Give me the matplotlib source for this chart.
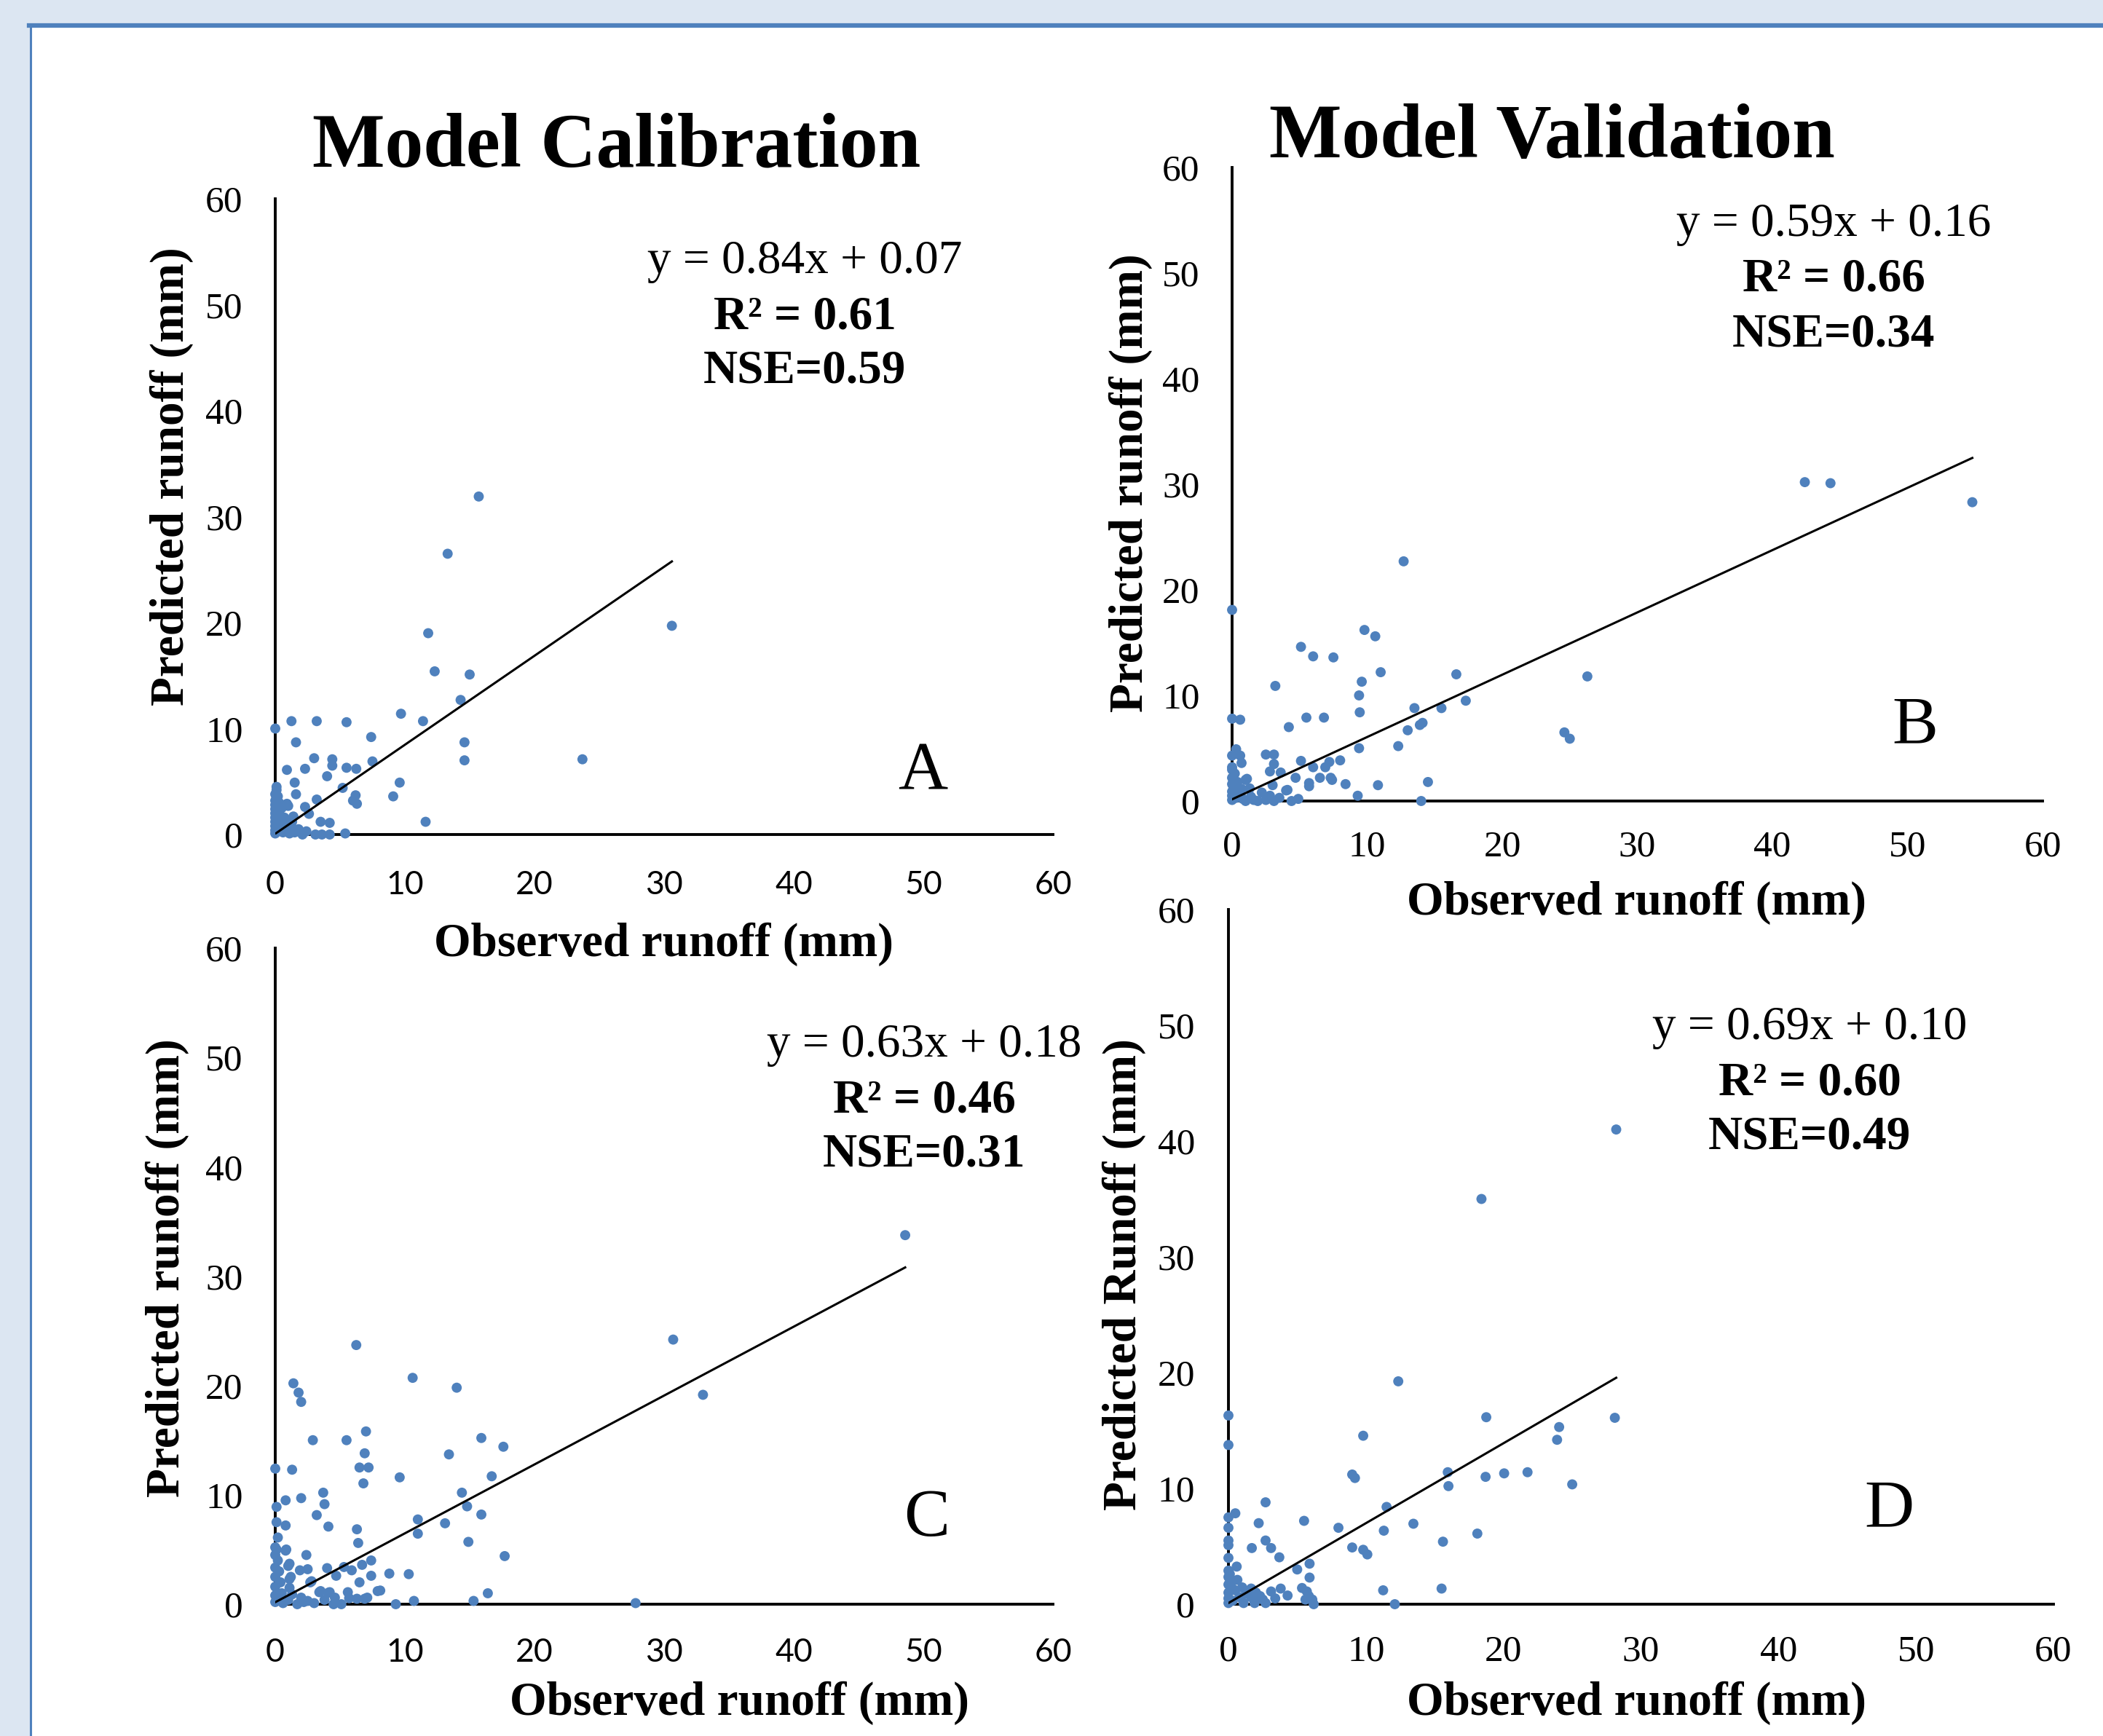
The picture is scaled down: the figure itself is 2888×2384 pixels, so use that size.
import matplotlib
matplotlib.use("Agg")
import matplotlib.pyplot as plt
from matplotlib.patches import Rectangle
from matplotlib.lines import Line2D

# ---------------- data: (observed, predicted) ----------------
ticks = [0, 10, 20, 30, 40, 50, 60]

cal_points = [
    (15.7, 31.9), (13.3, 26.5), (30.6, 19.7), (11.8, 19.0), (12.3, 15.4), (15.0, 15.1), (14.3, 12.7),
    (9.7, 11.4), (11.4, 10.7), (1.25, 10.7), (3.2, 10.7), (5.5, 10.6), (0, 10.0), (7.4, 9.2), (1.6, 8.7),
    (14.6, 8.7), (14.6, 7.0), (23.7, 7.1), (3.0, 7.2), (4.4, 7.1), (4.4, 6.5), (7.5, 6.9), (0.9, 6.1),
    (2.3, 6.2), (5.5, 6.3), (6.25, 6.2), (4.0, 5.5), (1.5, 4.9), (9.6, 4.9), (5.2, 4.4), (0.1, 4.5),
    (1.6, 3.8), (6.2, 3.7), (9.1, 3.6), (3.2, 3.3), (6.0, 3.2), (6.3, 2.9), (2.3, 2.6), (1.0, 2.7),
    (11.6, 1.2), (4.2, 1.1), (3.5, 1.2), (5.4, 0.1),
    (0, 3.8), (0.9, 2.9), (2.6, 1.95), (1.4, 1.7), (2.1, 0), (3.1, 0), (4.2, 0), (3.6, 0), (1.2, 0.7),
    (0.7, 1.6), (0, 3.2), (0, 2.8), (0, 2.4), (0, 2.0), (0, 1.6), (0, 1.2), (0, 0.8), (0, 0.4), (0, 0.1),
    (0.3, 3.0), (0.3, 2.2), (0.4, 1.4), (0.5, 0.6), (0.6, 0.2), (0.2, 0.9), (0.8, 1.0), (0.9, 0.3),
    (1.1, 0.1), (1.5, 0.2), (1.8, 0.5), (2.4, 0.3), (1.3, 1.2), (0.5, 2.5), (0.2, 3.6), (0.1, 4.2),
]

val_points = [
    (42.4, 30.2), (44.3, 30.1), (54.8, 28.3), (12.7, 22.7), (0, 18.1), (9.8, 16.2), (10.6, 15.6),
    (5.1, 14.6), (6.0, 13.7), (7.5, 13.6), (3.2, 10.9), (11.0, 12.2), (16.6, 12.0), (26.3, 11.8),
    (9.6, 11.3), (9.4, 10.0), (17.3, 9.5), (13.5, 8.8), (15.5, 8.8), (0, 7.8), (0.6, 7.7), (5.5, 7.9),
    (6.8, 7.9), (9.45, 8.4), (4.2, 7.0), (13.9, 7.2), (14.1, 7.4), (13.0, 6.7), (24.6, 6.5), (25.0, 5.9),
    (9.4, 5.0), (12.3, 5.2), (0.3, 4.9), (0, 4.3), (0.6, 4.3), (0.7, 3.6), (2.5, 4.4), (3.1, 4.4),
    (5.1, 3.8), (3.1, 3.5), (8.0, 3.85), (7.2, 3.7), (6.0, 3.2), (6.9, 3.2), (0, 3.2), (0, 2.97),
    (2.8, 2.8), (3.6, 2.7), (6.5, 2.2), (7.3, 2.2), (7.4, 2.0), (4.7, 2.2), (1.1, 2.1), (5.7, 1.7),
    (5.7, 1.4), (8.4, 1.6), (14.5, 1.8), (10.8, 1.5), (3.0, 1.5), (4.1, 1.05), (9.3, 0.5), (14.0, 0.0),
    (0.1, 1.3), (0.7, 1.15), (1.0, 2.0), (4.0, 1.0), (4.9, 0.2), (4.4, 0), (3.1, 0), (1.9, 0), (1.0, 0),
    (2.2, 0.8), (0, 2.2), (0, 1.6), (0, 0.9), (0, 0.5), (0, 0.1), (0.3, 0.3), (0.5, 0.8), (0.8, 0.2),
    (1.4, 0.4), (1.6, 0.1), (2.5, 0.1), (2.8, 0.5), (3.5, 0.3), (0.2, 2.6), (0.4, 1.8), (1.3, 1.2),
]

cal2_points = [
    (48.6, 33.75), (30.7, 24.2), (33.0, 19.15), (6.25, 23.7), (10.6, 20.7), (14.0, 19.8), (1.4, 20.2),
    (1.8, 19.35), (2.0, 18.5), (7.0, 15.8), (2.9, 15.0), (5.5, 15.0), (15.9, 15.2), (17.6, 14.4),
    (6.9, 13.8), (13.4, 13.7), (6.5, 12.5), (7.2, 12.5), (0, 12.4), (1.3, 12.3), (9.6, 11.6),
    (6.8, 11.05), (16.7, 11.7), (14.4, 10.2), (3.7, 10.2), (2.0, 9.7), (0.8, 9.5), (3.8, 9.15),
    (0.1, 8.9), (14.8, 8.95), (3.2, 8.15), (15.9, 8.2), (11.0, 7.75), (13.1, 7.4), (4.1, 7.1),
    (11.0, 6.45), (0.1, 7.5), (0.8, 7.2), (6.3, 6.85), (6.4, 5.6), (14.9, 5.7), (0.2, 6.1), (0, 5.2),
    (0.1, 5.0), (0.8, 4.9), (2.4, 4.5), (17.7, 4.4), (1.0, 3.5), (0, 3.35), (1.9, 3.1), (2.5, 3.2),
    (4.0, 3.3), (5.3, 3.4), (5.9, 3.1), (4.7, 2.6), (6.7, 3.6), (7.4, 4.0), (7.4, 2.6), (8.8, 2.8),
    (10.3, 2.75), (1.1, 2.3), (2.7, 2.0), (6.5, 2.0), (8.1, 1.25), (7.9, 1.2), (3.4, 1.1), (4.1, 1.05),
    (5.6, 1.1), (16.4, 1.0), (15.3, 0.3), (10.7, 0.3), (9.3, 0), (27.8, 0.1), (6.3, 0.5), (6.9, 0.5),
    (7.1, 0.6),
    (0, 4.5), (0, 2.5), (0, 1.6), (0.85, 5.0), (1.1, 3.7), (1.2, 2.5), (1.1, 1.5), (2.8, 2.1), (3.5, 1.2),
    (4.2, 1.1), (5.7, 0.55), (4.5, 0), (5.1, 0), (2.2, 0.2), (3.0, 0.1), (1.7, 0), (0, 0.8), (0, 0.2),
    (0.3, 0.5), (0.5, 1.0), (0.6, 0.1), (1.0, 0.4), (0.4, 2.0), (0.3, 3.0), (0.2, 4.0), (1.3, 0.9),
    (2.0, 0.6), (2.5, 0.3), (3.8, 0.4), (4.6, 0.6),
]

val2_points = [
    (28.2, 41.0), (18.4, 35.0), (12.35, 19.25), (28.1, 16.1), (18.75, 16.15), (0, 16.3), (24.05, 15.3),
    (23.9, 14.2), (0, 13.75), (9.8, 14.55), (21.75, 11.4), (20.05, 11.3), (18.7, 11.0), (15.95, 11.4),
    (9.0, 11.2), (9.2, 10.9), (25.0, 10.35), (16.0, 10.2), (11.5, 8.4), (2.7, 8.8), (0.5, 7.85),
    (0, 7.5), (5.5, 7.2), (2.2, 7.0), (13.45, 6.95), (8.0, 6.6), (0, 6.6), (11.3, 6.35), (18.1, 6.1),
    (2.7, 5.5), (15.6, 5.4), (0, 5.5), (0, 5.1), (1.7, 4.85), (3.1, 4.85), (9.0, 4.9), (9.8, 4.7),
    (10.1, 4.3), (3.7, 4.05), (0, 4.0), (5.9, 3.5), (0.6, 3.25), (5.0, 3.0), (5.9, 2.3), (0, 2.9),
    (0.1, 2.6), (0.65, 2.1), (11.25, 1.2), (15.5, 1.35), (3.1, 1.1), (3.8, 1.35), (5.35, 1.4),
    (5.7, 1.1), (5.85, 0.7), (4.3, 0.75), (12.1, 0.0), (6.2, 0.0), (2.3, 0.7), (2.7, 0.1),
    (0, 2.35), (0, 1.7), (0, 1.0), (1.0, 1.45), (1.65, 1.35), (1.65, 0.6), (1.9, 0.1), (1.1, 0.1),
    (6.1, 0.4), (5.6, 0.4), (0, 0.5), (0, 0.1), (0.3, 0.3), (0.5, 1.2), (0.8, 0.6), (1.3, 0.9),
    (0.2, 1.8), (2.0, 1.0), (2.5, 0.4), (3.4, 0.5),
]

slopes = [0.84, 0.59, 0.63, 0.69]
intercepts = [0.07, 0.16, 0.18, 0.10]
r2_values = ["0.61", "0.66", "0.46", "0.60"]
nse_values = ["0.59", "0.34", "0.31", "0.49"]
panel_letters = ["A", "B", "C", "D"]
titles = ["Model Calibration", "Model Validation"]
xlabels = ["Observed runoff (mm)"] * 4
ylabels = ["Predicted runoff (mm)", "Predicted runoff (mm)", "Predicted runoff (mm)", "Predicted Runoff (mm)"]

# ---------------- layout ----------------
W, H = 2888, 2384
DOT = '#4f81bd'
SERIF = 'Liberation Serif'
SANS = 'Lato'


def fx(x):
    return x / W


def fy(y):
    return 1 - y / H


fig = plt.figure(figsize=(W / 100, H / 100), dpi=100)
fig.patch.set_facecolor('#dce6f2')
fig.add_artist(Rectangle((fx(41), 0), 1, fy(35), transform=fig.transFigure,
                         facecolor='white', edgecolor='none', zorder=0))
fig.add_artist(Line2D([fx(40), 1], [fy(35), fy(35)], color='#4f81bd', lw=4.5,
                      transform=fig.transFigure, zorder=1))
fig.add_artist(Line2D([fx(42), fx(42)], [0, fy(35)], color='#4f81bd', lw=2.2,
                      transform=fig.transFigure, zorder=1))

boxes = [(378, 1446, 1146, 273), (1692, 2805, 1100, 230),
         (378, 1446, 2203, 1302), (1687, 2820, 2203, 1249)]
xtick_fonts = [SANS, SERIF, SANS, SERIF]
ytick_fonts = [SERIF, SERIF, SERIF, SERIF]
xtick_pads = [35, 29, 33, 30]
ytick_pads = [32, 32, 32, 33]
xlabel_pos = [(912, 1297), (2248, 1240), (1015, 2339), (2248, 2339)]
ylabel_pos = [(236, 654), (1553, 663), (230, 1741), (1544, 1750)]
text_pos = [(1105, 359), (2518, 308), (1269, 1435), (2485, 1411)]
letter_pos = [(1267, 1061), (2630, 998), (1273, 2087), (2594, 2074)]
title_pos = [(847, 203), (2131, 190)]

datasets = [cal_points, val_points, cal2_points, val2_points]

for i, pts in enumerate(datasets):
    obs = [p[0] for p in pts]
    pred = [p[1] for p in pts]
    x0, x60, y0, y60 = boxes[i]
    ax = fig.add_axes([fx(x0), fy(y0), (x60 - x0) / W, (y0 - y60) / H])
    ax.set_facecolor('none')
    ax.scatter(obs, pred, s=100, color=DOT, edgecolors='none', zorder=3, clip_on=False)
    xmax = max(obs)
    ax.plot([0, xmax], [intercepts[i], slopes[i] * xmax + intercepts[i]], color='black', lw=2.2, zorder=4)
    ax.set_xlim(0, 60)
    ax.set_ylim(0, 60)
    ax.set_xticks(ticks)
    ax.set_yticks(ticks)
    ax.set_xticklabels([str(t) for t in ticks], fontfamily=xtick_fonts[i],
                       fontsize=32 if xtick_fonts[i] == SANS else 37)
    ax.set_yticklabels([str(t) for t in ticks], fontfamily=ytick_fonts[i], fontsize=37)
    ax.tick_params(axis='x', length=0, pad=xtick_pads[i])
    ax.tick_params(axis='y', length=0, pad=ytick_pads[i])
    for s in ['top', 'right']:
        ax.spines[s].set_visible(False)
    for s in ['left', 'bottom']:
        ax.spines[s].set_linewidth(2.8)
        ax.spines[s].set_color('black')

    fig.text(fx(xlabel_pos[i][0]), fy(xlabel_pos[i][1]), xlabels[i], ha='center', va='center',
             fontsize=47, fontweight='bold', fontfamily=SERIF)
    fig.text(fx(ylabel_pos[i][0]), fy(ylabel_pos[i][1]), ylabels[i], ha='center', va='center',
             rotation=90, fontsize=47, fontweight='bold', fontfamily=SERIF)
    tx, ty = text_pos[i]
    fig.text(fx(tx), fy(ty), f"y = {slopes[i]:.2f}x + {intercepts[i]:.2f}", ha='center', va='center',
             fontsize=47, fontfamily=SERIF)
    fig.text(fx(tx), fy(ty + 76), f"R² = {r2_values[i]}", ha='center', va='center',
             fontsize=47, fontweight='bold', fontfamily=SERIF)
    fig.text(fx(tx), fy(ty + 151), f"NSE={nse_values[i]}", ha='center', va='center',
             fontsize=47, fontweight='bold', fontfamily=SERIF)
    lx, ly = letter_pos[i]
    fig.text(fx(lx), fy(ly), panel_letters[i], ha='center', va='center', fontsize=68, fontfamily=SERIF)

for t, (tx, ty) in zip(titles, title_pos):
    fig.text(fx(tx), fy(ty), t, ha='center', va='center', fontsize=76, fontweight='bold', fontfamily=SERIF)

fig.savefig('out.png', dpi=100, facecolor=fig.get_facecolor())
